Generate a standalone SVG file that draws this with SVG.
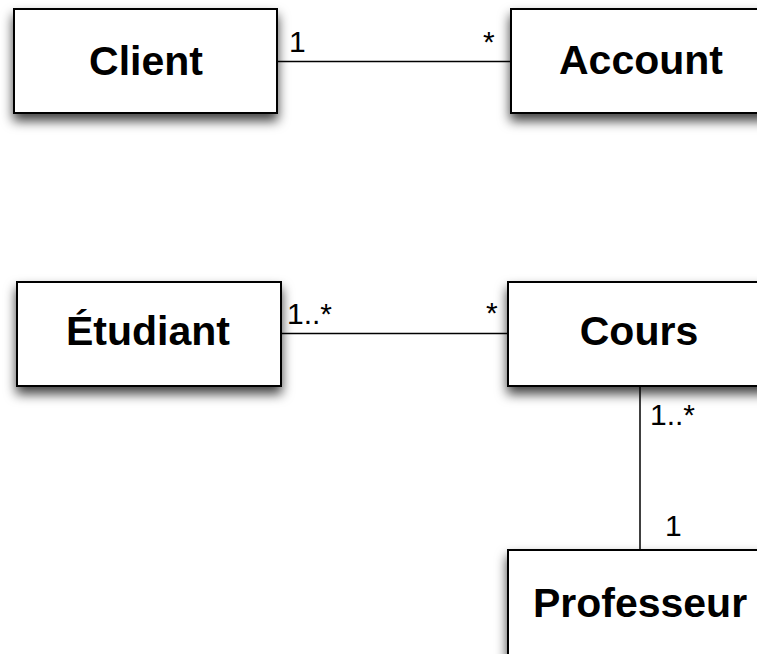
<svg xmlns="http://www.w3.org/2000/svg" width="757" height="654" viewBox="0 0 757 654">
<defs>
<filter id="sh" x="-20%" y="-20%" width="140%" height="170%">
<feDropShadow dx="0" dy="7" stdDeviation="6" flood-color="#000" flood-opacity="0.75"/>
</filter>
<style>
.box{fill:#fff;stroke:#000;stroke-width:2;filter:url(#sh)}
.name{font-family:"Liberation Sans",Arial,sans-serif;font-weight:bold;font-size:41px;text-anchor:middle;fill:#000}
.mult{font-family:"Liberation Sans",Arial,sans-serif;font-size:30px;fill:#000}
.conn{stroke:#000;stroke-width:1.5;fill:none}
</style>
</defs>
<rect width="757" height="654" fill="#fff"/>
<g id="connectors">
<line class="conn" x1="277" y1="61.5" x2="511" y2="61.5"/>
<line class="conn" x1="281" y1="333.5" x2="508" y2="333.5"/>
<line class="conn" x1="640" y1="386" x2="640" y2="550"/>
<text class="mult" x="289" y="52">1</text>
<text class="mult" x="483" y="52">*</text>
<text class="mult" x="287" y="324">1..*</text>
<text class="mult" x="486" y="323">*</text>
<text class="mult" x="650" y="425">1..*</text>
<text class="mult" x="665" y="536">1</text>
</g>
<g id="client">
<rect class="box" x="14" y="9" width="263" height="104"/>
<text class="name" x="146" y="75">Client</text>
</g>
<g id="account">
<rect class="box" x="511" y="9" width="263" height="104"/>
<text class="name" x="641" y="74">Account</text>
</g>
<g id="etudiant">
<rect class="box" x="17" y="282" width="264" height="104"/>
<text class="name" x="148" y="345">Étudiant</text>
</g>
<g id="cours">
<rect class="box" x="508" y="282" width="264" height="104"/>
<text class="name" x="639" y="345">Cours</text>
</g>
<g id="professeur">
<rect class="box" x="508" y="550" width="264" height="130"/>
<text class="name" x="640" y="617">Professeur</text>
</g>
</svg>
